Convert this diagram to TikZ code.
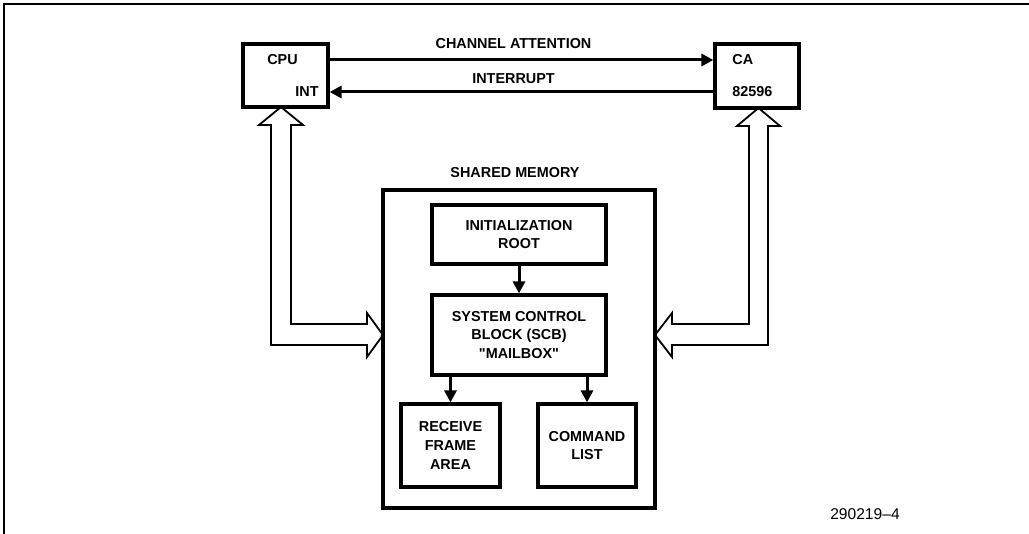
\documentclass[tikz,border=0pt]{standalone}
\usepackage{fontspec}
\setmainfont{Liberation Sans}
\usetikzlibrary{arrows.meta}

\begin{document}
\begin{tikzpicture}[
	x=0.5pt, y=-0.5pt,
	every node/.style={font=\fontsize{7.2}{9.3}\selectfont\bfseries, inner sep=0pt, align=center},
	unit/.style={draw, line width=1.6pt, minimum width=42.5pt, minimum height=31.5pt},
	block/.style={draw, line width=1.6pt, minimum width=87pt},
	leaf/.style={draw, line width=1.6pt, minimum width=49.5pt, minimum height=41.5pt},
	sig/.style={line width=1.5pt, -{Triangle[length=6pt,width=6pt]}},
	bus/.style={draw, line width=0.9pt, fill=white, line join=miter}]
\useasboundingbox (0,0) rectangle (1029,534);
% page frame
\draw[line width=1pt] (4,534) -- (4,4) -- (1029,4);

% buses to shared memory
\draw[bus] (281,107) -- (303,125) -- (291,125) -- (291,324) -- (367,324) -- (367,313)
	-- (383,335) -- (367,357) -- (367,345) -- (271,345) -- (271,125) -- (259,125) -- cycle;
\draw[bus] (758.5,108) -- (780,126) -- (768,126) -- (768,345) -- (672,345) -- (672,357)
	-- (655,335) -- (672,313) -- (672,324) -- (749,324) -- (749,126) -- (737,126) -- cycle;

% processors
\node[unit] (cpu) at (285.5,75.5) {};
\node (cpulbl) at (282.5,60) {CPU};
\node[anchor=east] (intlbl) at (319,92) {INT};
\node[unit, minimum width=42pt, minimum height=32pt] (ca) at (757,76) {};
\node[anchor=west] (calbl) at (732,60) {CA};
\node[anchor=west] (chiplbl) at (732,92) {82596};

\draw[sig] (cpu.east |- cpulbl) -- node[above=5pt, xshift=-4pt] {CHANNEL ATTENTION} (ca.west |- calbl);
\draw[sig] (ca.west |- chiplbl) -- node[above=3.4pt, xshift=-4pt] {INTERRUPT} (cpu.east |- intlbl);

% shared memory
\node[draw, line width=2pt, minimum width=136pt, minimum height=159pt] (mem) at (519,349) {};
\node (memlbl) at (515,173) {SHARED MEMORY};
\node[block, minimum height=29.5pt] (root) at (519,234.5) {INITIALIZATION\\ROOT};
\node[block, minimum height=40pt] (scb) at (519,335) {SYSTEM CONTROL\\BLOCK (SCB)\\\textquotedbl MAILBOX\textquotedbl};
\node[leaf] (rfa) at (450.5,445.5) {RECEIVE\\FRAME\\AREA};
\node[leaf, minimum width=49pt] (cmd) at (587,445.5) {COMMAND\\LIST};
\draw[sig] (root) -- (scb);
\draw[sig] (rfa.north |- scb.south) -- (rfa);
\draw[sig] (cmd.north |- scb.south) -- (cmd);

\node[font=\fontsize{7.8}{9}\selectfont] (figno) at (865,514) {290219--4};
\end{tikzpicture}
\end{document}
